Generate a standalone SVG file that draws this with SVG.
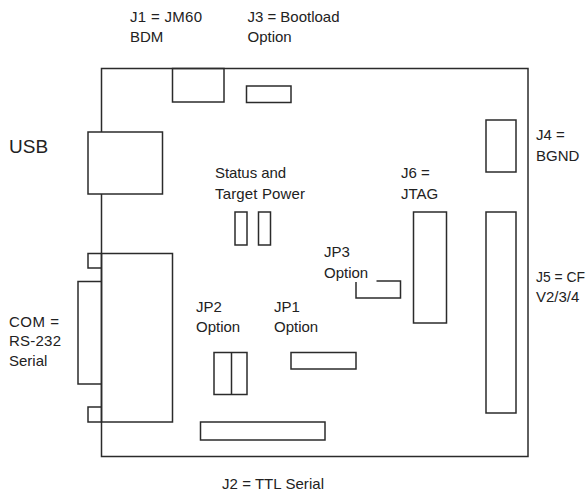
<svg xmlns="http://www.w3.org/2000/svg" width="587" height="492" viewBox="0 0 587 492">
<style>
.s{fill:none;stroke:#2b2b2b;stroke-width:1.5}
text{font-family:"Liberation Sans",Arial,sans-serif;font-size:15px;fill:#222}
</style>
<rect width="587" height="492" fill="#fff"/>
<g id="board"><rect class="s" x="101.5" y="68.5" width="426.5" height="388"/></g>
<g id="j1"><rect class="s" x="172.5" y="68.5" width="51.5" height="33.5"/><text x="130" y="21.5" textLength="72">J1 = JM60</text><text x="130" y="42">BDM</text></g>
<g id="j3"><rect class="s" x="246.5" y="86" width="44.5" height="16.5"/><text x="247.5" y="21.5" textLength="92">J3 = Bootload</text><text x="247.5" y="42">Option</text></g>
<g id="usb"><rect class="s" x="88" y="132" width="74.5" height="62" style="fill:#fff"/><text x="9" y="153" style="font-size:19px">USB</text></g>
<g id="status"><rect class="s" x="235" y="212" width="12" height="33"/><rect class="s" x="258.5" y="212" width="12" height="33"/><text x="215" y="178" textLength="71">Status and</text><text x="215" y="199" textLength="90">Target Power</text></g>
<g id="com"><rect class="s" x="101.5" y="253.5" width="71" height="168.5"/><path class="s" d="M101.5 253.5H88V268H101.5M101.5 281.5H78V384H101.5M101.5 407H88V422H101.5"/><text x="9" y="327" textLength="50">COM =</text><text x="9" y="346" textLength="52">RS-232</text><text x="9" y="366">Serial</text></g>
<g id="jp2"><rect class="s" x="214" y="352.5" width="33" height="42"/><path class="s" d="M231.5 352.5V394.5"/><text x="196" y="312">JP2</text><text x="196" y="332">Option</text></g>
<g id="jp1"><rect class="s" x="291" y="352.5" width="65" height="16.5"/><text x="274" y="312">JP1</text><text x="274" y="332">Option</text></g>
<g id="j2"><rect class="s" x="200.5" y="422" width="124.5" height="18"/><text x="222" y="489" textLength="102">J2 = TTL Serial</text></g>
<g id="jp3"><path class="s" d="M376.5 281H400.5V298H356V282"/><text x="324" y="257">JP3</text><text x="324" y="278">Option</text></g>
<g id="j6"><rect class="s" x="413.5" y="212" width="33" height="111"/><text x="401" y="178">J6 =</text><text x="401" y="199">JTAG</text></g>
<g id="j4"><rect class="s" x="486" y="120" width="30" height="52"/><text x="536" y="140">J4 =</text><text x="536" y="161">BGND</text></g>
<g id="j5"><rect class="s" x="486" y="212" width="30" height="201"/><text x="536" y="282" style="font-size:13.9px">J5 = CF</text><text x="536" y="302">V2/3/4</text></g>
</svg>
